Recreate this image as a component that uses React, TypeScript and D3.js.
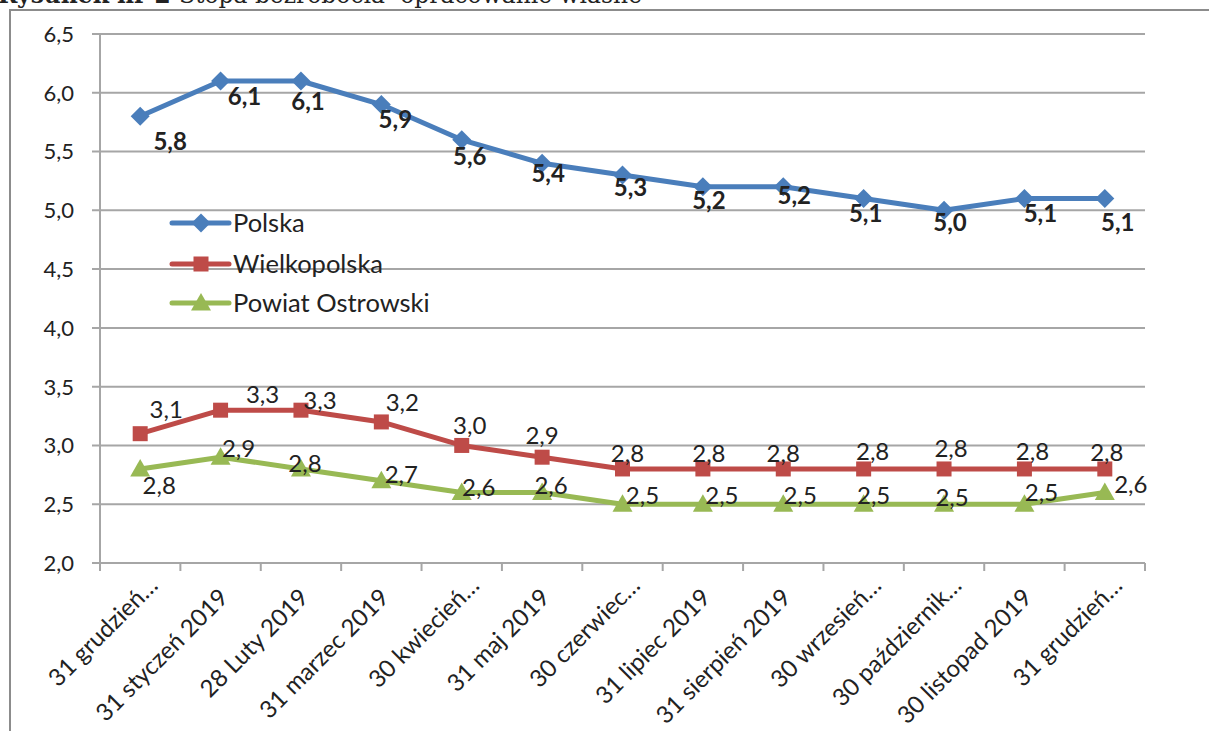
import React from "react";
import * as d3 from "d3";

// ---------- data ----------
const categories = [
  "31 grudzień…",
  "31 styczeń 2019",
  "28 Luty 2019",
  "31 marzec 2019",
  "30 kwiecień…",
  "31 maj 2019",
  "30 czerwiec…",
  "31 lipiec 2019",
  "31 sierpień 2019",
  "30 wrzesień…",
  "30 październik…",
  "30 listopad 2019",
  "31 grudzień…",
];
const polska = [5.8, 6.1, 6.1, 5.9, 5.6, 5.4, 5.3, 5.2, 5.2, 5.1, 5.0, 5.1, 5.1];
const wielkopolska = [3.1, 3.3, 3.3, 3.2, 3.0, 2.9, 2.8, 2.8, 2.8, 2.8, 2.8, 2.8, 2.8];
const powiat = [2.8, 2.9, 2.8, 2.7, 2.6, 2.6, 2.5, 2.5, 2.5, 2.5, 2.5, 2.5, 2.6];
const yTicks = [2.0, 2.5, 3.0, 3.5, 4.0, 4.5, 5.0, 5.5, 6.0, 6.5];
const seriesNames = ["Polska", "Wielkopolska", "Powiat Ostrowski"];

// ---------- layout ----------
const W = 1209;
const H = 731;
const M = { left: 100, right: 1145, top: 34, bottom: 563 };
const FONT = "Lato, 'Open Sans', sans-serif";
const COLORS = ["#4A7EBB", "#BE4B48", "#98B954"];
const GRID = "#A6A6A6";

// label offsets (text centre relative to point)
const offPolska = [[30, 25], [24, 15], [7, 20], [14, 15], [8, 17], [6, 10], [8, 12], [6, 14], [11, 9], [2, 15], [6, 12], [16, 15], [13, 24]];
const offWielko = [[26, -24], [42, -16], [19, -10], [21, -20], [8, -20], [0, -22], [5, -16], [6, -16], [0, -16], [9, -18], [7, -21], [8, -18], [2, -17]];
const offPowiat = [[19, 16], [18, -9], [4, -6], [20, -6], [17, -5], [9, -7], [20, -9], [19, -9], [17, -9], [10, -9], [8, -7], [17, -12], [26, -8]];

const fmt = (v: number) => v.toFixed(1).replace(".", ",");

function Marker({ kind, x, y, color }: { kind: number; x: number; y: number; color: string }) {
  if (kind === 0) {
    const s = 9.5;
    return <path d={`M${x},${y - s}L${x + s},${y}L${x},${y + s}L${x - s},${y}Z`} fill={color} />;
  }
  if (kind === 1) {
    const s = 7.5;
    return <rect x={x - s} y={y - s} width={2 * s} height={2 * s} fill={color} />;
  }
  const w = 10;
  return <path d={`M${x},${y - 10}L${x + w},${y + 7.5}L${x - w},${y + 7.5}Z`} fill={color} />;
}

export default function App() {
  const x = d3
    .scaleBand<string>()
    .domain(categories.map((c, i) => String(i)))
    .range([M.left, M.right])
    .paddingInner(0)
    .paddingOuter(0);
  const y = d3.scaleLinear().domain([2.0, 6.5]).range([M.bottom, M.top]);
  const cx = (i: number) => (x(String(i)) as number) + x.bandwidth() / 2;

  const line = d3
    .line<number>()
    .x((_, i) => cx(i))
    .y((d) => y(d));

  const all = [polska, wielkopolska, powiat];
  const offs = [offPolska, offWielko, offPowiat];

  const tickXs = d3.range(categories.length + 1).map((i) => M.left + i * x.bandwidth());

  return (
    <svg
      width={W}
      height={H}
      style={{ position: "absolute", left: 0, top: 0, display: "block", background: "#fff" }}
    >
      <rect x={0} y={0} width={W} height={H} fill="#fff" />
      {/* caption, cut at the top */}
      <text x={-2} y={3} fontFamily="'DejaVu Serif', serif" fontSize={24} fill="#222" textLength={644} lengthAdjust="spacingAndGlyphs">
        <tspan fontWeight="bold">Rysunek nr 2 </tspan>
        <tspan>Stopa bezrobocia- opracowanie własne</tspan>
      </text>
      {/* outer frame */}
      <path d={`M10,${H + 5}V10H${W + 5}`} fill="none" stroke="#8C8C8C" strokeWidth={2} />

      {/* gridlines */}
      {yTicks.map((t) => (
        <line key={t} x1={M.left - 8} x2={M.right} y1={y(t)} y2={y(t)} stroke={GRID} strokeWidth={2} />
      ))}
      {/* y axis */}
      <line x1={M.left} x2={M.left} y1={M.top} y2={M.bottom} stroke={GRID} strokeWidth={2} />
      {yTicks.map((t) => (
        <text key={t} x={74} y={y(t)} dy="0.36em" textAnchor="end" fontFamily={FONT} fontSize={22} fill="#222">
          {fmt(t)}
        </text>
      ))}
      {/* x ticks */}
      {tickXs.map((tx, i) => (
        <line key={i} x1={tx} x2={tx} y1={M.bottom} y2={M.bottom + 8} stroke={GRID} strokeWidth={2} />
      ))}
      {categories.map((c, i) => {
        const trunc = c.endsWith("…");
        const ax = cx(i) + (trunc ? 19 : 9);
        const ay = trunc ? 587 : 599;
        return (
          <text
            key={i}
            transform={`translate(${ax},${ay}) rotate(-45)`}
            textAnchor="end"
            fontFamily={FONT}
            fontSize={24}
            fill="#222"
          >
            {c}
          </text>
        );
      })}

      {/* series */}
      {all.map((s, k) => (
        <g key={k}>
          <path d={line(s) || ""} fill="none" stroke={COLORS[k]} strokeWidth={5} strokeLinejoin="round" />
          {s.map((v, i) => (
            <Marker key={i} kind={k} x={cx(i)} y={y(v)} color={COLORS[k]} />
          ))}
          {s.map((v, i) => (
            <text
              key={"l" + i}
              x={cx(i) + offs[k][i][0]}
              y={y(v) + offs[k][i][1]}
              dy="0.36em"
              textAnchor="middle"
              fontFamily={FONT}
              fontSize={24}
              fontWeight={k === 0 ? "bold" : "normal"}
              fill="#222"
            >
              {fmt(v)}
            </text>
          ))}
        </g>
      ))}

      {/* legend */}
      {seriesNames.map((n, k) => {
        const ly = [223, 264, 303][k];
        return (
          <g key={n}>
            <line x1={172} x2={229} y1={ly} y2={ly} stroke={COLORS[k]} strokeWidth={5} strokeLinecap="round" />
            <Marker kind={k} x={201} y={ly} color={COLORS[k]} />
            <text x={233} y={ly} dy="0.36em" fontFamily={FONT} fontSize={25.5} fill="#222">
              {n}
            </text>
          </g>
        );
      })}
    </svg>
  );
}
